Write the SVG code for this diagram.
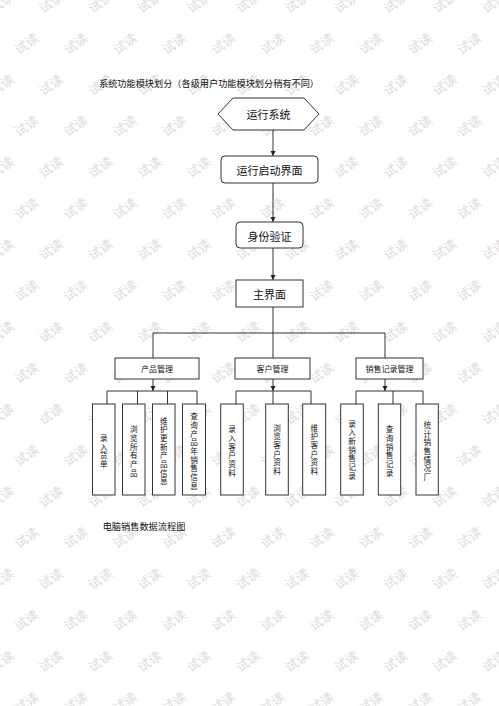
<svg xmlns="http://www.w3.org/2000/svg" width="499" height="706" viewBox="0 0 499 706">
<style>
.box{fill:#fff;stroke:#333;stroke-width:1}
.ln{fill:none;stroke:#333;stroke-width:1}
.t{font-family:"Noto Sans CJK SC","Noto Sans",sans-serif;fill:#111;text-anchor:middle;dominant-baseline:central}
.v{font-family:"Liberation Sans","Noto Sans CJK SC",sans-serif;fill:#111;font-size:7.6px;text-anchor:middle;dominant-baseline:central}
.wm{font-family:"Noto Sans CJK SC",sans-serif;font-size:13px;fill:#dcdcdc;text-anchor:middle;dominant-baseline:central}
</style>
<defs>
<marker id="ah" markerWidth="6" markerHeight="6" refX="5" refY="3" orient="auto" markerUnits="userSpaceOnUse">
<path d="M0,0.5 L5,3 L0,5.5 Z" fill="#222"/>
</marker>
<text id="w" class="wm" transform="rotate(-35)">试读</text>
<g id="re">
<use href="#w" transform="translate(26,0)"/>
<use href="#w" transform="translate(75.2,0)"/>
<use href="#w" transform="translate(124.4,0)"/>
<use href="#w" transform="translate(173.6,0)"/>
<use href="#w" transform="translate(222.8,0)"/>
<use href="#w" transform="translate(272,0)"/>
<use href="#w" transform="translate(321.2,0)"/>
<use href="#w" transform="translate(370.4,0)"/>
<use href="#w" transform="translate(419.6,0)"/>
<use href="#w" transform="translate(468.8,0)"/>
</g>
<g id="ro">
<use href="#w" transform="translate(1.4,0)"/>
<use href="#w" transform="translate(50.6,0)"/>
<use href="#w" transform="translate(99.8,0)"/>
<use href="#w" transform="translate(149,0)"/>
<use href="#w" transform="translate(198.2,0)"/>
<use href="#w" transform="translate(247.4,0)"/>
<use href="#w" transform="translate(296.6,0)"/>
<use href="#w" transform="translate(345.8,0)"/>
<use href="#w" transform="translate(395,0)"/>
<use href="#w" transform="translate(444.2,0)"/>
<use href="#w" transform="translate(493.4,0)"/>
</g>
</defs>
<rect width="499" height="706" fill="#fff"/>
<g id="watermark">
<use href="#ro" transform="translate(0,1.8)"/>
<use href="#re" transform="translate(0,43)"/>
<use href="#ro" transform="translate(0,84.2)"/>
<use href="#re" transform="translate(0,125.3)"/>
<use href="#ro" transform="translate(0,166.5)"/>
<use href="#re" transform="translate(0,207.7)"/>
<use href="#ro" transform="translate(0,248.9)"/>
<use href="#re" transform="translate(0,290.1)"/>
<use href="#ro" transform="translate(0,331.2)"/>
<use href="#re" transform="translate(0,372.4)"/>
<use href="#ro" transform="translate(0,413.6)"/>
<use href="#re" transform="translate(0,454.8)"/>
<use href="#ro" transform="translate(0,496)"/>
<use href="#re" transform="translate(0,537.1)"/>
<use href="#ro" transform="translate(0,578.3)"/>
<use href="#re" transform="translate(0,619.5)"/>
<use href="#ro" transform="translate(0,660.7)"/>
<use href="#re" transform="translate(0,701.9)"/>
</g>

<text class="t" x="209" y="82.5" font-size="9.2" textLength="220" lengthAdjust="spacingAndGlyphs">系统功能模块划分（各级用户功能模块划分稍有不同）</text>
<text class="t" x="144" y="526" font-size="9.2">电脑销售数据流程图</text>

<g id="connectors">
<line class="ln" x1="273" y1="130" x2="273" y2="156" marker-end="url(#ah)"/>
<line class="ln" x1="273" y1="183" x2="273" y2="222" marker-end="url(#ah)"/>
<line class="ln" x1="273" y1="248" x2="273" y2="280" marker-end="url(#ah)"/>
<path class="ln" d="M273,307 V333 M153,358 V333 H385 V358 M273,333 V358"/>
<line class="ln" x1="153" y1="379" x2="153" y2="391" marker-end="url(#ah)"/>
<line class="ln" x1="273" y1="379" x2="273" y2="391" marker-end="url(#ah)"/>
<line class="ln" x1="385" y1="379" x2="385" y2="391" marker-end="url(#ah)"/>
<path class="ln" d="M107,404 V391 H197 V404 M137.5,391 V404 M167.5,391 V404"/>
<path class="ln" d="M236,404 V391 H311 V404 M273,391 V404"/>
<path class="ln" d="M356,404 V391 H423 V404 M393,391 V404"/>
</g>

<g id="run">
<polygon class="box" points="218,114 233,98 304,98 319,114 304,130 233,130"/>
<text class="t" x="268.5" y="114" font-size="11">运行系统</text>
</g>
<g id="startup">
<rect class="box" x="221" y="156" width="97" height="27" rx="4"/>
<text class="t" x="269.5" y="170" font-size="11">运行启动界面</text>
</g>
<g id="auth">
<rect class="box" x="236" y="222" width="67" height="26" rx="4"/>
<text class="t" x="269.5" y="236" font-size="11">身份验证</text>
</g>
<g id="main">
<rect class="box" x="236" y="280" width="67" height="27"/>
<text class="t" x="269.5" y="294" font-size="11">主界面</text>
</g>

<g id="product">
<rect class="box" x="115" y="358" width="84" height="21"/>
<text class="t" x="157" y="368.5" font-size="8">产品管理</text>
</g>
<g id="customer">
<rect class="box" x="235" y="358" width="75" height="21"/>
<text class="t" x="272.5" y="368.5" font-size="8">客户管理</text>
</g>
<g id="sales">
<rect class="box" x="356" y="358" width="67" height="21"/>
<text class="t" x="389.5" y="368.5" font-size="8">销售记录管理</text>
</g>

<g id="p1">
<rect class="box" x="92.5" y="404" width="22.5" height="91"/>
<text class="v" x="103.7" y="438.5">录</text><text class="v" x="103.7" y="447.2">入</text><text class="v" x="103.7" y="455.9">货</text><text class="v" x="103.7" y="464.6">单</text>
</g>
<g id="p2">
<rect class="box" x="122.5" y="404" width="22.5" height="91"/>
<text class="v" x="133.7" y="429.8">浏</text><text class="v" x="133.7" y="438.5">览</text><text class="v" x="133.7" y="447.2">所</text><text class="v" x="133.7" y="455.9">有</text><text class="v" x="133.7" y="464.6">产</text><text class="v" x="133.7" y="473.3">品</text>
</g>
<g id="p3">
<rect class="box" x="152.5" y="404" width="22.5" height="91"/>
<text class="v" x="163.7" y="421">维</text><text class="v" x="163.7" y="429.7">护</text><text class="v" x="163.7" y="438.4">更</text><text class="v" x="163.7" y="447.1">新</text><text class="v" x="163.7" y="455.8">产</text><text class="v" x="163.7" y="464.5">品</text><text class="v" x="163.7" y="473.2">信</text><text class="v" x="163.7" y="481.9">息</text>
</g>
<g id="p4">
<rect class="box" x="182.5" y="404" width="23" height="91"/>
<text class="v" x="194" y="416.7">查</text><text class="v" x="194" y="425.4">询</text><text class="v" x="194" y="434.1">产</text><text class="v" x="194" y="442.8">品</text><text class="v" x="194" y="451.5">年</text><text class="v" x="194" y="460.2">销</text><text class="v" x="194" y="468.9">售</text><text class="v" x="194" y="477.6">信</text><text class="v" x="194" y="486.3">息</text>
</g>

<g id="c1">
<rect class="box" x="220.7" y="404" width="22.6" height="91"/>
<text class="v" x="232" y="429.8">录</text><text class="v" x="232" y="438.5">入</text><text class="v" x="232" y="447.2">客</text><text class="v" x="232" y="455.9">户</text><text class="v" x="232" y="464.6">资</text><text class="v" x="232" y="473.3">料</text>
</g>
<g id="c2">
<rect class="box" x="265.7" y="404" width="22.6" height="91"/>
<text class="v" x="277" y="428">浏</text><text class="v" x="277" y="436.7">览</text><text class="v" x="277" y="445.4">客</text><text class="v" x="277" y="454.1">户</text><text class="v" x="277" y="462.8">资</text><text class="v" x="277" y="471.5">料</text>
</g>
<g id="c3">
<rect class="box" x="302.7" y="404" width="23" height="91"/>
<text class="v" x="314.2" y="428">维</text><text class="v" x="314.2" y="436.7">护</text><text class="v" x="314.2" y="445.4">客</text><text class="v" x="314.2" y="454.1">户</text><text class="v" x="314.2" y="462.8">资</text><text class="v" x="314.2" y="471.5">料</text>
</g>

<g id="s1">
<rect class="box" x="340.7" y="404" width="22.6" height="91"/>
<text class="v" x="352" y="424">录</text><text class="v" x="352" y="432.7">入</text><text class="v" x="352" y="441.4">新</text><text class="v" x="352" y="450.1">销</text><text class="v" x="352" y="458.8">售</text><text class="v" x="352" y="467.5">记</text><text class="v" x="352" y="476.2">录</text>
</g>
<g id="s2">
<rect class="box" x="378.3" y="404" width="22.4" height="91"/>
<text class="v" x="389.5" y="429.8">查</text><text class="v" x="389.5" y="438.5">询</text><text class="v" x="389.5" y="447.2">销</text><text class="v" x="389.5" y="455.9">售</text><text class="v" x="389.5" y="464.6">记</text><text class="v" x="389.5" y="473.3">录</text>
</g>
<g id="s3">
<rect class="box" x="416" y="404" width="22.3" height="91"/>
<text class="v" x="427.2" y="425.4">统</text><text class="v" x="427.2" y="434.1">计</text><text class="v" x="427.2" y="442.8">销</text><text class="v" x="427.2" y="451.5">售</text><text class="v" x="427.2" y="460.2">情</text><text class="v" x="427.2" y="468.9">况</text><text class="v" x="427.2" y="477.6">厂</text>
</g>
</svg>
